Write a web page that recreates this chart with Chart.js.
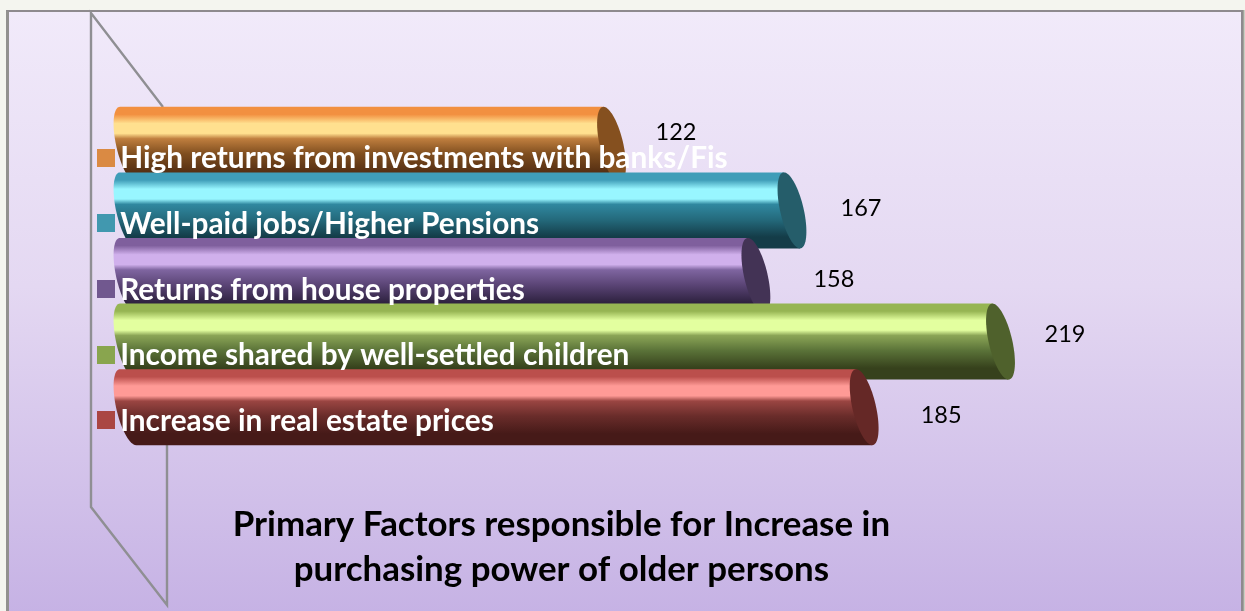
<!DOCTYPE html>
<html><head><meta charset="utf-8">
<style>
html,body{margin:0;padding:0;width:1245px;height:611px;overflow:hidden;background:#f4f5ef}
#frame{position:absolute;left:6px;top:10px;width:1232px;height:610px;border:2px solid #8e8a8e;border-left:3px solid #92918f;
box-shadow:1.5px 0 0 #a2a59b;
background:linear-gradient(180deg,#f1eafa 0%,#e4d8f2 45%,#c5b1e4 100%);box-sizing:content-box}
#c{position:absolute;left:0;top:0}
</style>
<script src="https://cdn.jsdelivr.net/npm/chart.js@4"></script>
</head><body>
<div id="frame"></div>
<canvas id="c" width="1115" height="611"></canvas>
<script>
const categories = ["High returns from investments with banks/Fis","Well-paid jobs/Higher Pensions","Returns from house properties","Income shared by well-settled children","Increase in real estate prices"];
const values = [122,167,158,219,185];
const titleLines = ["Primary Factors responsible for Increase in","purchasing power of older persons"];

const keyColors = ["#DA8A43","#4198AF","#71588F","#89A54E","#AA4643"];
const capColors = ["#85501F","#255D6A","#433355","#4F612C","#652826"];
const shades = [
  ["#F29040","#FFE08F","#BF7E3E","#7F4E1F","#573013"],
  ["#3F9DB8","#98F6FF","#3088A0","#246A7C","#143C48"],
  ["#7F5F9D","#D0B0EC","#7F65A0","#5A4475","#2E2240"],
  ["#96B553","#E3FF9F","#8BA556","#5A7238","#36411C"],
  ["#BB4F4C","#FF9A96","#9A4542","#692C2A","#461A18"]
];
const labelNudgeX = [64.5,69,78,64.5,77];
const labelNudgeY = [-12,-1.5,3.5,-7,8.5];

const FONT = "Lato, Carlito, sans-serif";
const SKEW = 8, RX = 12, BASE_INSET = 5.7;

function drawCylinder(ctx, el, i){
  const p = el.getProps(['x','y','base','height'], true);
  const x0 = p.base + BASE_INSET;
  const T = p.y - p.height/2, B = p.y + p.height/2, b = p.height/2;
  const g = ctx.createLinearGradient(0,T,0,B), s = shades[i];
  g.addColorStop(0,s[0]); g.addColorStop(.1,s[0]); g.addColorStop(.22,s[1]); g.addColorStop(.35,s[1]);
  g.addColorStop(.42,s[2]); g.addColorStop(.62,s[3]); g.addColorStop(.85,s[4]); g.addColorStop(1,s[4]);
  ctx.save();
  ctx.beginPath();
  ctx.moveTo(x0-SKEW,T);
  ctx.lineTo(p.x-SKEW,T);
  ctx.lineTo(p.x+SKEW,B);
  ctx.lineTo(x0+SKEW,B);
  for(let n=0;n<=40;n++){
    const t = Math.PI/2 + Math.PI*n/40;
    ctx.lineTo(x0 + RX*Math.cos(t) + SKEW*Math.sin(t), p.y + b*Math.sin(t));
  }
  ctx.closePath();
  ctx.fillStyle = g; ctx.fill();
  ctx.beginPath();
  for(let n=0;n<=80;n++){
    const t = 2*Math.PI*n/80;
    const x = p.x + RX*Math.cos(t) + SKEW*Math.sin(t), y = p.y + b*Math.sin(t);
    n ? ctx.lineTo(x,y) : ctx.moveTo(x,y);
  }
  ctx.closePath();
  ctx.fillStyle = capColors[i]; ctx.fill();
  ctx.restore();
}

const cylinders = {
  id:'cylinders',
  beforeDatasetsDraw(chart){
    const ctx = chart.ctx;
    ctx.save();
    ctx.strokeStyle = "#8F8F93"; ctx.lineWidth = 2.4;
    ctx.beginPath();
    ctx.moveTo(163,107); ctx.lineTo(91,13); ctx.lineTo(91,507); ctx.lineTo(167,605); ctx.lineTo(167,440);
    ctx.stroke();
    ctx.restore();
    chart.getDatasetMeta(0).data.forEach((el,i)=>{ el.draw = function(c){ drawCylinder(c,this,i); }; });
  },
  afterDraw(chart){
    const ctx = chart.ctx, y = chart.scales.y;
    const meta = chart.getDatasetMeta(0);
    ctx.save();
    meta.data.forEach((el,i)=>{
      const cy = y.getPixelForValue(i);
      ctx.fillStyle = keyColors[i];
      ctx.fillRect(97, Math.round(cy+13-9), 18, 18);
      ctx.fillStyle = "#000";
      ctx.font = "23.5px "+FONT;
      ctx.textAlign = "center"; ctx.textBaseline = "middle";
      ctx.fillText(String(values[i]), el.x+labelNudgeX[i], cy+labelNudgeY[i]);
    });
    ctx.restore();
  }
};

new Chart(document.getElementById('c'),{
  type:'bar',
  data:{labels:categories,datasets:[{label:'Primary Factors',data:values,backgroundColor:keyColors,barThickness:76,clip:false}]},
  plugins:[cylinders],
  options:{
    indexAxis:'y',responsive:false,animation:false,
    layout:{padding:{left:122.3,right:114.5,top:112,bottom:0}},
    scales:{
      x:{display:false,min:0,max:219},
      y:{position:'left',grid:{display:false,drawTicks:false},border:{display:false},
         ticks:{z:1,mirror:true,autoSkip:false,padding:-0.7,labelOffset:14,color:"#fff",font:{family:FONT,weight:'bold',size:29.8}}}
    },
    plugins:{
      legend:{display:false},tooltip:{enabled:false},
      title:{display:true,position:'bottom',text:titleLines,color:"#000",
        font:{family:FONT,weight:'bold',size:34.9,lineHeight:1.29},
        padding:{top:62,bottom:19}}
    }
  }
});
</script>
</body></html>
